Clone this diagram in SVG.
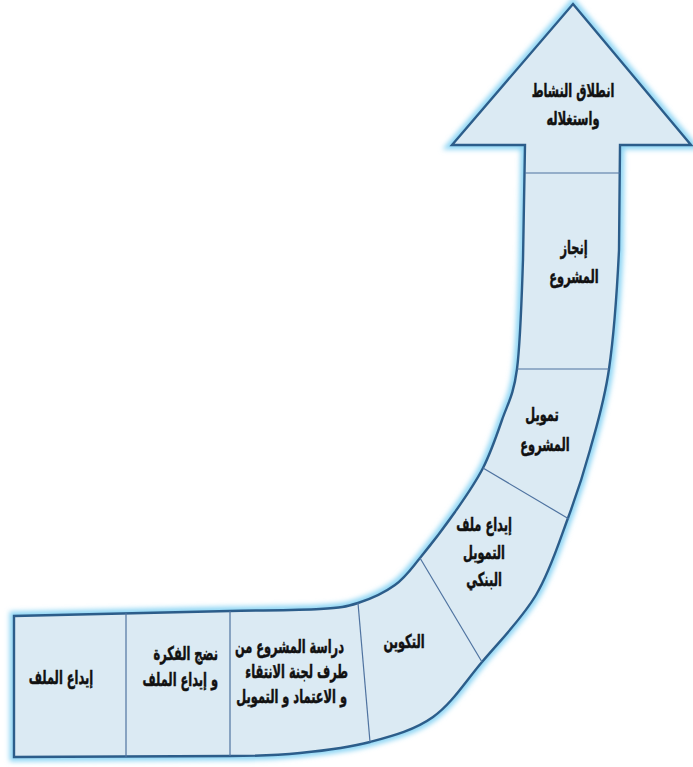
<svg xmlns="http://www.w3.org/2000/svg" width="693" height="767" viewBox="0 0 693 767">
<style>
.lbl{font-family:"DejaVu Sans","Noto Sans",sans-serif;font-weight:bold;font-size:19px;fill:#111;stroke:#111;stroke-width:0.5;text-anchor:middle}
.end{text-anchor:end}
.div{stroke:#4f73a0;stroke-width:1.2;fill:none}
</style>
<defs>
<filter id="glow" x="-10%" y="-10%" width="120%" height="120%">
<feGaussianBlur stdDeviation="2.5"/>
</filter>
<path id="shape" d="M573,4 L691,145 L620,145 L619,250 C617.2,287.3 613.8,335.7 609,369 C604.2,402.3 596.8,425.2 590,450 C583.2,474.8 577,493.8 568,518 C559,542.2 550.3,571 536,595 C521.7,619 499.2,641.7 482,662 C464.8,682.3 451.7,703.7 433,717 C414.3,730.3 392.2,736 370,742 C347.8,748 323.3,750.7 300,753 C276.7,755.3 253,756 230,756 L14,757 L14,616 L230,611 C260,610.3 298.7,610.3 320,609 C341.3,607.7 345.5,607 358,603 C370.5,599 384.7,592.5 395,585 C405.3,577.5 410,570.2 420,558 C430,545.8 444.5,527 455,512 C465.5,497 475.2,483.3 483,468 C490.8,452.7 496.3,436.5 502,420 C507.7,403.5 513.5,395.7 517,369 C520.5,342.3 521.7,297.3 523,260 L525,145 L452,145 Z"/>
</defs>
<g id="band">
<use href="#shape" fill="none" stroke="#8fd6f4" stroke-width="9" stroke-linejoin="miter" filter="url(#glow)"/>
<use href="#shape" fill="#dbeaf3" stroke="#2c5d8a" stroke-width="2.4" stroke-linejoin="miter"/>
<line class="div" x1="525" y1="173" x2="620" y2="173"/>
<line class="div" x1="517" y1="369" x2="609" y2="369"/>
<line class="div" x1="483" y1="468" x2="569" y2="519"/>
<line class="div" x1="420" y1="558" x2="482" y2="662"/>
<line class="div" x1="358" y1="603" x2="370" y2="742"/>
<line class="div" x1="230" y1="611" x2="230" y2="756"/>
<line class="div" x1="126" y1="613" x2="126" y2="757"/>
</g>
<g id="node-launch">
<text class="lbl" transform="translate(573,97) scale(0.6,1)">انطلاق النشاط</text>
<text class="lbl" transform="translate(573,125) scale(0.6,1)">واستغلاله</text>
</g>
<g id="node-realisation">
<text class="lbl" transform="translate(574,254) scale(0.6,1)">إنجاز</text>
<text class="lbl" transform="translate(574,283) scale(0.6,1)">المشروع</text>
</g>
<g id="node-financement">
<text class="lbl" transform="translate(542,421) scale(0.6,1)">تمويل</text>
<text class="lbl" transform="translate(545,451) scale(0.6,1)">المشروع</text>
</g>
<g id="node-depot-bancaire">
<text class="lbl" transform="translate(484,531) scale(0.6,1)">إيداع ملف</text>
<text class="lbl" transform="translate(484,559) scale(0.6,1)">التمويل</text>
<text class="lbl" transform="translate(484,586) scale(0.6,1)">البنكي</text>
</g>
<g id="node-formation">
<text class="lbl" transform="translate(404,648) scale(0.6,1)">التكوين</text>
</g>
<g id="node-etude">
<text class="lbl end" transform="translate(344,653) scale(0.6,1)">دراسة المشروع من</text>
<text class="lbl end" transform="translate(348,678) scale(0.6,1)">طرف لجنة الانتقاء</text>
<text class="lbl end" transform="translate(347,703) scale(0.6,1)">و الاعتماد و التمويل</text>
</g>
<g id="node-maturation">
<text class="lbl end" transform="translate(218,660) scale(0.6,1)">نضج الفكرة</text>
<text class="lbl end" transform="translate(218,686) scale(0.6,1)">و إيداع الملف</text>
</g>
<g id="node-depot">
<text class="lbl" transform="translate(61,684) scale(0.6,1)">إيداع الملف</text>
</g>
</svg>
